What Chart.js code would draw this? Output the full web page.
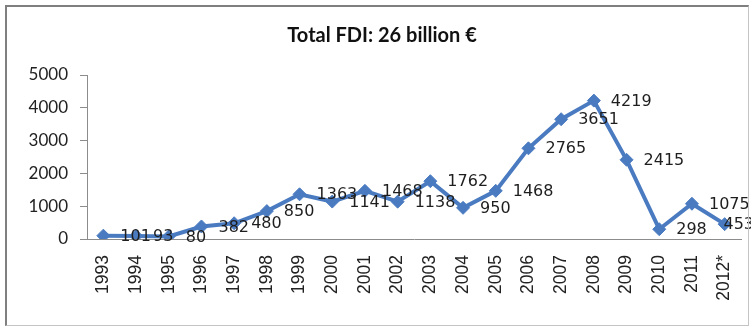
<!DOCTYPE html>
<html lang="en">
<head>
    <meta charset="UTF-8">
    <title>Total FDI</title>
    <script src="https://cdn.jsdelivr.net/npm/chart.js"></script>
    <style>
        body { margin: 0; background: #fff; }
        .wrap { position: relative; width: 751px; height: 327px; overflow: hidden; }
        .frame {
            position: absolute; left: 5px; top: 5px; width: 741px; height: 318px;
            border-left: 2px solid #7f7f7f; border-top: 2px solid #7f7f7f;
            border-right: 1px solid #c4c4c4; border-bottom: 1px solid #c4c4c4;
            pointer-events: none;
        }
        canvas { position: absolute; left: 0; top: 0; }
    </style>
</head>
<body>
    <div class="wrap">
        <canvas id="fdiChart" width="751" height="327"></canvas>
        <div class="frame"></div>
    </div>

    <script>
        // Yearly FDI inflows (million €)
        const years = ['1993', '1994', '1995', '1996', '1997', '1998', '1999', '2000', '2001', '2002',
                       '2003', '2004', '2005', '2006', '2007', '2008', '2009', '2010', '2011', '2012*'];
        const fdiValues = [101, 93, 80, 382, 480, 850, 1363, 1141, 1468, 1138,
                           1762, 950, 1468, 2765, 3651, 4219, 2415, 298, 1075, 453];
        const yTicks = [0, 1000, 2000, 3000, 4000, 5000];

        // Value labels to the right of each marker, pushed back in at the right edge
        const valueLabels = {
            id: 'valueLabels',
            afterDatasetsDraw(chart) {
                const ctx = chart.ctx;
                const meta = chart.getDatasetMeta(0);
                ctx.save();
                ctx.font = '16px "DejaVu Sans"';
                ctx.fillStyle = '#1e1e1e';
                ctx.textAlign = 'left';
                ctx.textBaseline = 'middle';
                meta.data.forEach((pt, i) => {
                    const txt = String(fdiValues[i]);
                    const w = ctx.measureText(txt).width;
                    const x = Math.min(pt.x + 17, chart.width + 3 - w);
                    ctx.fillText(txt, x, pt.y + 1);
                });
                ctx.restore();
            }
        };

        const blue = '#4a7bc1';
        const ctx = document.getElementById('fdiChart').getContext('2d');
        new Chart(ctx, {
            type: 'line',
            data: {
                labels: years,
                datasets: [{
                    data: fdiValues,
                    borderColor: blue,
                    backgroundColor: blue,
                    borderWidth: 4,
                    tension: 0,
                    pointStyle: 'rectRot',
                    pointRadius: 6.5,
                    pointBackgroundColor: blue,
                    pointBorderColor: blue,
                    pointBorderWidth: 1
                }]
            },
            options: {
                responsive: false,
                animation: false,
                layout: { padding: { left: 23, right: 10, top: 10, bottom: 0 } },
                plugins: {
                    legend: { display: false },
                    tooltip: { enabled: false },
                    title: {
                        display: true,
                        text: 'Total FDI: 26 billion €',
                        color: '#111',
                        font: { family: 'Lato', size: 20, weight: 'bold' },
                        padding: { top: 14, bottom: 27 }
                    }
                },
                scales: {
                    x: {
                        offset: true,
                        grid: { display: false, drawTicks: false },
                        border: { display: true, color: '#8c8c8c', width: 1 },
                        ticks: {
                            minRotation: 90,
                            maxRotation: 90,
                            padding: 16,
                            color: '#222',
                            font: { family: 'Liberation Sans', size: 17.5 }
                        },
                        afterFit(scale) {
                            scale.height = 88;
                            scale.paddingLeft = 0;
                            scale.paddingRight = 0;
                        }
                    },
                    y: {
                        min: 0,
                        max: 5000,
                        afterBuildTicks(scale) { scale.ticks = yTicks.map(v => ({ value: v })); },
                        grid: {
                            drawOnChartArea: false,
                            drawTicks: true,
                            tickLength: 7,
                            color: '#8c8c8c'
                        },
                        border: { display: true, color: '#8c8c8c', width: 1 },
                        ticks: {
                            padding: 12,
                            color: '#222',
                            font: { family: 'Lato', size: 17 },
                            callback: (v) => String(v)
                        },
                        afterFit(scale) { scale.width = 64; }
                    }
                }
            },
            plugins: [valueLabels]
        });
    </script>
</body>
</html>
